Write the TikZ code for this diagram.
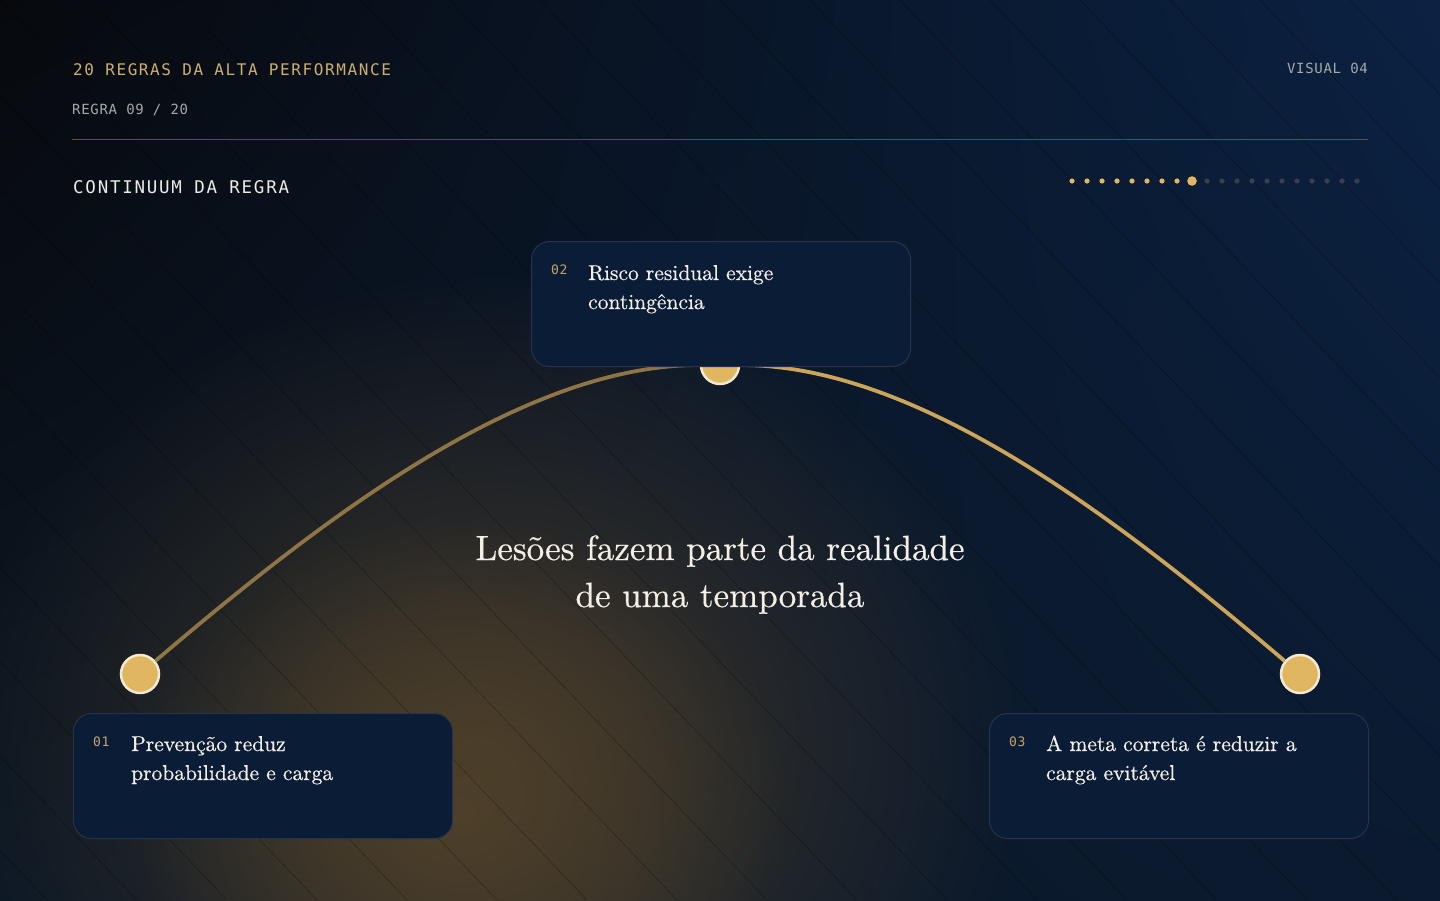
\documentclass[tikz,border=0pt]{standalone}
\usepackage{fontspec}
\usepackage{tikz}
\usepackage{xcolor}
\usetikzlibrary{fadings,shadings}
\newfontfamily\monowide[LetterSpace=10]{DejaVu Sans Mono}
\newfontfamily\mononarrow[LetterSpace=5]{DejaVu Sans Mono}
\newfontfamily\display[FakeBold=0.5]{lmroman10-regular.otf}
\definecolor{gold}{HTML}{E0B660}
\definecolor{cream}{HTML}{F3E9D2}
\definecolor{arcl}{HTML}{8F7545}
\definecolor{arcr}{HTML}{CDA55A}
\definecolor{cardfill}{HTML}{0B1C37}
\definecolor{cardedge}{HTML}{26334A}
\definecolor{numgold}{HTML}{C4A569}
\definecolor{ink}{HTML}{F4EFE6}
\definecolor{headgold}{HTML}{CDAE72}
\definecolor{greytext}{HTML}{A5A8AC}
\definecolor{paper}{HTML}{ECEBE8}
\definecolor{rulec}{HTML}{5E4F32}
\definecolor{dotgrey}{HTML}{3A3F48}
\definecolor{glowa}{HTML}{40372A}
\definecolor{glowb}{HTML}{4E4029}
\definecolor{bgul}{HTML}{07090D}
\definecolor{bgur}{HTML}{0B2243}
\definecolor{bgll}{HTML}{0C1826}
\definecolor{bglr}{HTML}{0B1A2F}
\tikzfading[name=glowfade, inner color=transparent!0, outer color=transparent!100]
\begin{document}
\begin{tikzpicture}[x=1pt,y=-1pt,
  card/.style={draw=cardedge, fill=cardfill, rounded corners=18pt, line width=1pt, minimum width=379pt, minimum height=125pt, inner sep=0pt},
  stone/.style={circle, fill=gold, draw=cream, line width=2.5pt, minimum size=38pt, inner sep=0pt},
  num/.style={anchor=base west, inner sep=0pt, text=numgold, font=\mononarrow\fontsize{13}{15}\selectfont},
  cardtext/.style={anchor=base west, inner sep=0pt, text=ink, align=left, font=\display\fontsize{21.5}{29}\selectfont},
  hatch/.style={black, opacity=.3, line width=.6pt}]
\useasboundingbox (0,0) rectangle (1440,900);
% background
\shade[upper left=bgul, upper right=bgur, lower left=bgll, lower right=bglr] (0,0) rectangle (1440,900);
\fill[glowa, path fading=glowfade] (490,750) ellipse [x radius=540, y radius=480];
\fill[glowb, path fading=glowfade] (460,810) ellipse [x radius=330, y radius=300];
\begin{scope}
\clip (0,0) rectangle (1440,900);
\foreach \k in {-900,-810,...,1440} \draw[hatch] (\k,0) -- ++(857,900);
\end{scope}
% header
\node[anchor=base west, inner sep=0pt, text=headgold, font=\monowide\fontsize{16}{19}\selectfont] (head) at (73,75) {20 REGRAS DA ALTA PERFORMANCE};
\node[anchor=base west, inner sep=0pt, text=greytext, font=\mononarrow\fontsize{14}{17}\selectfont] (rulenum) at (72,114) {REGRA 09 / 20};
\node[anchor=base east, inner sep=0pt, text=greytext, font=\mononarrow\fontsize{14}{17}\selectfont] (visual) at (1368,73) {VISUAL 04};
\draw[rulec, line width=1pt] (72,139) -- (1368,139);
\node[anchor=base west, inner sep=0pt, text=paper, font=\monowide\fontsize{17.5}{21}\selectfont] (cont) at (73,193) {CONTINUUM DA REGRA};
\foreach \i in {1,...,8} \fill[gold] ({1072+15*(\i-1)},181) circle (2.6);
\fill[gold] (1192,181) circle (4.8);
\foreach \i in {10,...,20} \fill[dotgrey] ({1072+15*(\i-1)},181) circle (2.6);
% arc
\node[stone] (p1) at (140,674) {};
\node[stone] (p2) at (720,365) {};
\node[stone] (p3) at (1300,674) {};
\draw[arcl, line width=3.8pt] (p1) .. controls (320,521) and (520,365) .. (p2);
\draw[arcr, line width=3.8pt] (p2) .. controls (920,365) and (1120,521) .. (p3);
\node[anchor=base, inner sep=0pt, text=ink, align=center, font=\display\fontsize{35}{47}\selectfont] (msg) at (720,607) {Lesões fazem parte da realidade\\de uma temporada};
% cards
\node[card, anchor=north west] (c1) at (73,713) {};
\node[card, anchor=north west] (c2) at (531,241) {};
\node[card, anchor=north west] (c3) at (989,713) {};
\node[num] (n1) at (93,746) {01};
\node[cardtext] (t1) at (131,780) {Prevenção reduz\\probabilidade e carga};
\node[num] (n2) at (551,274) {02};
\node[cardtext] (t2) at (588,309) {Risco residual exige\\contingência};
\node[num] (n3) at (1009,746) {03};
\node[cardtext] (t3) at (1046,780) {A meta correta é reduzir a\\carga evitável};
\end{tikzpicture}
\end{document}
